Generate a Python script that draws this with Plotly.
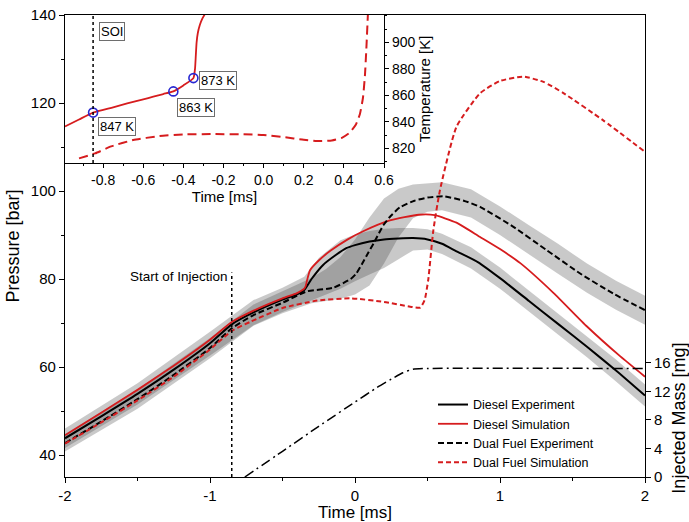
import plotly.graph_objects as go

# ---- main pressure traces: time [ms] vs cylinder pressure [bar] ----
t_de = [-2.0, -1.75, -1.5, -1.25, -1.0, -0.85, -0.7, -0.5, -0.4, -0.35, -0.3, -0.22, -0.13, -0.06,
        0.0, 0.1, 0.2, 0.3, 0.4, 0.5, 0.6, 0.7, 0.85, 1.0, 1.2, 1.4, 1.6, 1.8, 2.0]
p_de = [43.8, 48.8, 53.9, 59.4, 65.4, 69.7, 72.4, 75.3, 76.5, 77.5, 80.0, 83.2, 85.5, 87.0,
        87.7, 88.5, 89.0, 89.2, 89.3, 89.0, 88.0, 86.3, 83.8, 80.2, 75.0, 69.8, 64.6, 59.2, 53.5]

t_ds = [-2.0, -1.75, -1.5, -1.25, -1.0, -0.85, -0.7, -0.5, -0.4, -0.35, -0.34, -0.33, -0.31, -0.25,
        -0.17, -0.05, 0.06, 0.24, 0.44, 0.55, 0.7, 0.86, 1.0, 1.14, 1.37, 1.6, 1.83, 2.0]
p_ds = [44.5, 49.6, 54.8, 60.3, 66.2, 70.2, 72.8, 75.6, 76.8, 77.8, 78.4, 79.8, 82.0, 84.2,
        86.4, 89.0, 90.9, 93.3, 94.6, 94.5, 92.8, 89.6, 86.8, 83.6, 76.8, 69.2, 62.4, 57.8]

t_fe = [-2.0, -1.75, -1.5, -1.25, -1.0, -0.85, -0.7, -0.5, -0.33, -0.15, -0.03, 0.01, 0.05, 0.08,
        0.13, 0.195, 0.24, 0.31, 0.41, 0.5, 0.61, 0.75, 0.862, 1.09, 1.32, 1.55, 1.78, 2.0]
p_fe = [42.7, 47.6, 52.7, 58.2, 64.3, 68.8, 71.8, 74.6, 77.2, 78.0, 80.0, 81.3, 83.5, 85.3,
        88.2, 92.2, 94.1, 96.3, 97.8, 98.5, 98.8, 97.8, 96.4, 91.9, 86.6, 81.3, 76.7, 72.9]

t_fs = [-2.0, -1.75, -1.5, -1.25, -1.0, -0.85, -0.72, -0.5, -0.26, -0.03, 0.2, 0.38, 0.45, 0.48,
        0.505, 0.54, 0.586, 0.7, 0.862, 1.0, 1.16, 1.3, 1.44, 1.71, 2.0]
p_fs = [42.6, 47.4, 52.4, 57.8, 64.0, 68.2, 70.3, 73.4, 75.1, 75.6, 74.8, 73.7, 73.5, 75.2,
        79.8, 91.0, 100.2, 114.6, 122.2, 125.0, 126.0, 124.8, 122.2, 116.1, 108.9]

# ---- cycle-to-cycle scatter of the experiments ----
t_band_de = [-2.0, -1.5, -1.0, -0.7, -0.5, -0.35, -0.25, -0.1, 0.0, 0.1, 0.2, 0.3, 0.4, 0.5, 0.6,
             0.8, 1.0, 1.2, 1.4, 1.6, 1.8, 2.0]
hi_de = [46.0, 56.3, 68.0, 75.2, 78.0, 80.5, 84.8, 88.8, 90.1, 90.9, 91.4, 91.6, 91.6, 91.3, 90.3,
         87.2, 82.6, 77.4, 72.2, 67.0, 61.7, 56.0]
lo_de = [41.6, 51.5, 62.6, 69.5, 72.5, 74.5, 75.8, 77.8, 79.5, 81.0, 82.5, 84.5, 86.5, 86.7, 85.7,
         82.4, 77.8, 72.6, 67.4, 62.2, 56.7, 51.0]

t_band_fe = [-2.0, -1.5, -1.0, -0.7, -0.5, -0.3, -0.2, -0.1, 0.0, 0.1, 0.2, 0.3, 0.4, 0.5, 0.6,
             0.8, 1.0, 1.2, 1.4, 1.6, 1.8, 2.0]
hi_fe = [44.8, 54.9, 66.6, 74.2, 77.2, 80.2, 82.3, 85.0, 89.0, 94.0, 98.3, 100.5, 101.5, 101.8, 102.0,
         100.4, 96.5, 92.2, 88.0, 83.5, 79.6, 76.2]
lo_fe = [40.8, 50.5, 62.0, 69.4, 72.2, 74.5, 75.0, 75.5, 76.5, 78.5, 83.5, 89.5, 93.8, 95.3, 95.6,
         94.0, 90.0, 85.6, 81.2, 76.9, 73.0, 69.6]

# ---- injected fuel mass [mg] ----
t_mass = [-0.76, -0.5, -0.25, 0.0, 0.15, 0.25, 0.33, 0.4, 0.5, 2.0]
m_mass = [0.0, 3.6, 7.1, 10.5, 12.5, 13.7, 14.6, 15.1, 15.2, 15.2]

# ---- inset: simulated temperature [K] ----
t_ins_ds = [-0.99, -0.92, -0.85, -0.75, -0.68, -0.6, -0.55, -0.5, -0.45, -0.4, -0.35,
            -0.342, -0.338, -0.334, -0.328, -0.318, -0.305, -0.29]
temp_ins_ds = [836.5, 841.8, 847.0, 851.0, 854.0, 857.0, 859.0, 861.0, 863.0, 867.5, 873.0,
               880.0, 890.0, 900.0, 907.0, 913.0, 918.0, 922.0]

t_ins_fs = [-0.92, -0.84, -0.76, -0.65, -0.52, -0.4, -0.25, -0.1, 0.0, 0.1, 0.2, 0.28, 0.34,
            0.39, 0.43, 0.46, 0.48, 0.495, 0.505, 0.512, 0.52]
temp_ins_fs = [812.5, 816.2, 821.5, 826.3, 829.3, 830.5, 830.8, 830.6, 830.1, 828.5, 826.5, 825.5,
               826.0, 828.0, 832.0, 838.0, 846.0, 858.0, 875.0, 895.0, 922.0]

# marked temperatures after start of injection
t_marks = [-0.85, -0.45, -0.35]
temp_marks = [847, 863, 873]
mark_labels = ["847 K", "863 K", "873 K"]

soi_time = -0.85

FONT = "Liberation Sans, Arial, sans-serif"
RED = "rgb(214,28,30)"
BAND = "rgba(54,54,54,0.27)"
SMOOTH = dict(shape="spline", smoothing=0.5)

fig = go.Figure()


def band(t, hi, lo):
    fig.add_trace(go.Scatter(
        x=list(t) + list(t)[::-1], y=list(hi) + list(lo)[::-1],
        fill="toself", fillcolor=BAND, line=dict(width=0),
        mode="lines", showlegend=False, hoverinfo="skip"))


band(t_band_de, hi_de, lo_de)
band(t_band_fe, hi_fe, lo_fe)

fig.add_trace(go.Scatter(x=t_de, y=p_de, mode="lines", name="Diesel Experiment",
                         line=dict(color="black", width=2, **SMOOTH)))
fig.add_trace(go.Scatter(x=t_ds, y=p_ds, mode="lines", name="Diesel Simulation",
                         line=dict(color=RED, width=1.8, **SMOOTH)))
fig.add_trace(go.Scatter(x=t_fe, y=p_fe, mode="lines", name="Dual Fuel Experiment",
                         line=dict(color="black", width=2, dash="6px,3px", **SMOOTH)))
fig.add_trace(go.Scatter(x=t_fs, y=p_fs, mode="lines", name="Dual Fuel Simulation",
                         line=dict(color=RED, width=2, dash="5px,3px", **SMOOTH)))

# injected mass on its own right-hand scale
fig.add_trace(go.Scatter(x=t_mass, y=m_mass, mode="lines", yaxis="y3", showlegend=False,
                         line=dict(color="black", width=1.5, dash="10px,4px,2px,4px", **SMOOTH)))

# inset traces
fig.add_trace(go.Scatter(x=t_ins_ds, y=temp_ins_ds, mode="lines", xaxis="x2", yaxis="y2",
                         showlegend=False, line=dict(color=RED, width=1.8, **SMOOTH)))
fig.add_trace(go.Scatter(x=t_ins_fs, y=temp_ins_fs, mode="lines", xaxis="x2", yaxis="y2",
                         showlegend=False, line=dict(color=RED, width=2, dash="9px,5px", **SMOOTH)))
fig.add_trace(go.Scatter(x=t_marks, y=temp_marks, mode="markers", xaxis="x2", yaxis="y2",
                         showlegend=False,
                         marker=dict(symbol="circle-open", size=9, color="rgb(40,40,210)",
                                     line=dict(width=1.6, color="rgb(40,40,210)"))))

axis_common = dict(showline=True, linecolor="black", linewidth=1.3, ticks="outside",
                   tickcolor="black", showgrid=False, zeroline=False, automargin=False,
                   tickfont=dict(family=FONT, size=15, color="black"))

main_x_ticks = [-2, -1, 0, 1, 2]
main_y_ticks = [40, 60, 80, 100, 120, 140]
mass_ticks = [0, 4, 8, 12, 16]
inset_x_ticks = [-0.8, -0.6, -0.4, -0.2, 0.0, 0.2, 0.4, 0.6]
inset_y_ticks = [820, 840, 860, 880, 900]

fig.update_layout(
    width=689, height=522,
    margin=dict(l=65, r=44, t=15, b=45, autoexpand=False),
    paper_bgcolor="white", plot_bgcolor="rgba(0,0,0,0)",
    font=dict(family=FONT, color="black"),
    xaxis=dict(axis_common, domain=[0, 1], range=[-2, 2], mirror=True,
               tickvals=main_x_ticks, ticktext=[str(v) for v in main_x_ticks],
               ticklen=5, minor=dict(dtick=0.5, ticklen=3, ticks="outside", tickcolor="black"),
               title=dict(text="Time [ms]", font=dict(size=17), standoff=0)),
    yaxis=dict(axis_common, domain=[0, 1], range=[35, 140], mirror=True,
               tickvals=main_y_ticks, ticklen=5,
               minor=dict(dtick=10, ticklen=3, ticks="outside", tickcolor="black"),
               title=dict(text="Pressure [bar]", font=dict(size=18), standoff=6)),
    yaxis3=dict(axis_common, anchor="x", side="right", domain=[0, 0.255], range=[0, 16.5],
                showline=False, tickvals=mass_ticks, ticklen=5,
                title=dict(text="Injected Mass [mg]", font=dict(size=18), standoff=4)),
    xaxis2=dict(axis_common, anchor="y2", domain=[0, 0.55], range=[-0.99, 0.6],
                tickvals=inset_x_ticks, ticktext=["%.1f" % v for v in inset_x_ticks],
                tickfont=dict(family=FONT, size=14, color="black"), ticklen=4,
                minor=dict(dtick=0.1, ticklen=2, ticks="outside", tickcolor="black"),
                title=dict(text="Time [ms]", font=dict(size=15), standoff=4)),
    yaxis2=dict(axis_common, anchor="x2", side="right", domain=[0.6797, 1], range=[809, 920.6],
                tickvals=inset_y_ticks, tickfont=dict(family=FONT, size=14, color="black"),
                ticklen=4, minor=dict(dtick=10, ticklen=2, ticks="outside", tickcolor="black"),
                title=dict(text="Temperature [K]", font=dict(size=15), standoff=4)),
    legend=dict(x=0.6345, y=0.1885, xanchor="left", yanchor="top",
                bgcolor="rgba(0,0,0,0)", font=dict(family=FONT, size=12.5, color="black"),
                tracegroupgap=0, itemwidth=30),
)

# start of injection marker in the main plot
fig.add_shape(type="line", xref="x", yref="y", x0=soi_time, x1=soi_time, y0=35, y1=81.5,
              line=dict(color="black", width=1.5, dash="dot"))
fig.add_annotation(x=soi_time, y=80.6, xref="x", yref="y", text="Start of Injection",
                   showarrow=False, xanchor="right", yanchor="middle", xshift=-2,
                   font=dict(family=FONT, size=13.5, color="black"))

# start of injection marker in the inset
fig.add_shape(type="line", xref="x2", yref="y2 domain", x0=soi_time, x1=soi_time, y0=0, y1=1,
              line=dict(color="black", width=1.5, dash="dot"))

box = dict(showarrow=False, bordercolor="rgb(110,110,110)", borderwidth=1, borderpad=1,
           bgcolor="white", font=dict(family=FONT, size=13, color="black"))
fig.add_annotation(x=-0.756, y=907.8, xref="x2", yref="y2", text="SOI", **box)
label_pos = [(-0.729, 836.8), (-0.335, 851.2), (-0.226, 871.2)]
for (lx, ly), txt in zip(label_pos, mark_labels):
    fig.add_annotation(x=lx, y=ly, xref="x2", yref="y2", text=txt, **box)

fig.write_html("out.html")
